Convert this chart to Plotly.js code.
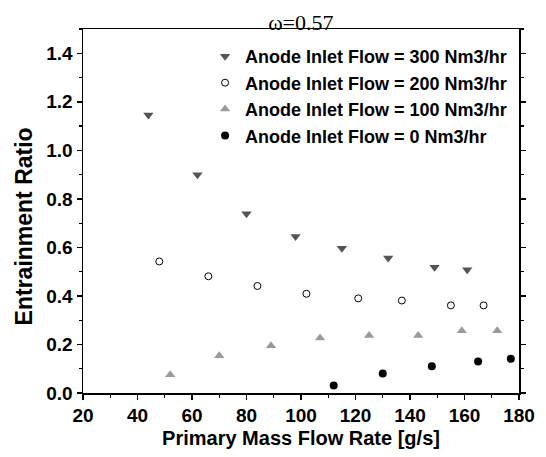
<!DOCTYPE html>
<html>
<head>
<meta charset="utf-8">
<script src="https://cdn.plot.ly/plotly-3.0.1.min.js"></script>
<style>html,body{margin:0;padding:0;background:#fff;}#chart{width:546px;height:457px;}</style>
</head>
<body>
<div id="chart"></div>
<script>
const names = [
  "Anode Inlet Flow = 300 Nm3/hr",
  "Anode Inlet Flow = 200 Nm3/hr",
  "Anode Inlet Flow = 100 Nm3/hr",
  "Anode Inlet Flow = 0 Nm3/hr"
];
const x300 = [44, 62, 80, 98, 115, 132, 149, 161];
const y300 = [1.146, 0.899, 0.739, 0.645, 0.596, 0.556, 0.518, 0.508];
const x200 = [48, 66, 84, 102, 121, 137, 155, 167];
const y200 = [0.542, 0.481, 0.441, 0.409, 0.39, 0.381, 0.361, 0.361];
const x100 = [52, 70, 89, 107, 125, 143, 159, 172];
const y100 = [0.075, 0.154, 0.195, 0.227, 0.237, 0.237, 0.257, 0.257];
const x0 = [112, 130, 148, 165, 177];
const y0 = [0.031, 0.08, 0.11, 0.13, 0.141];
const xTicks = [20, 40, 60, 80, 100, 120, 140, 160, 180];
const yTicks = [0.0, 0.2, 0.4, 0.6, 0.8, 1.0, 1.2, 1.4];
const titleText = "ω=0.57";
const xTitle = "Primary Mass Flow Rate [g/s]";
const yTitle = "Entrainment Ratio";

const traces = [
  {x: x300, y: y300, name: names[0], mode: "markers", type: "scatter",
   marker: {symbol: "triangle-down", size: 9, color: "#545454"}},
  {x: x200, y: y200, name: names[1], mode: "markers", type: "scatter",
   marker: {symbol: "circle-open", size: 7, color: "#000", line: {width: 1, color: "#000"}}},
  {x: x100, y: y100, name: names[2], mode: "markers", type: "scatter",
   marker: {symbol: "triangle-up", size: 9, color: "#9a9a9a"}},
  {x: x0, y: y0, name: names[3], mode: "markers", type: "scatter",
   marker: {symbol: "circle", size: 8, color: "#000"}}
];

const fam = "Liberation Sans, Arial, sans-serif";
const tickFont = {family: fam, size: 19, color: "#000", weight: "bold"};
const layout = {
  width: 546, height: 457,
  margin: {l: 83, r: 27, t: 29, b: 64},
  paper_bgcolor: "#fff", plot_bgcolor: "#fff",
  title: {text: titleText, font: {family: "Liberation Serif, Times New Roman, serif", size: 22, color: "#000"},
          x: 0.551, xanchor: "center", y: 0.951, yanchor: "middle"},
  showlegend: true,
  legend: {x: 0.28, y: 0.975, xanchor: "left", yanchor: "top", bgcolor: "rgba(0,0,0,0)",
           font: {family: fam, size: 18, color: "#000", weight: "bold"}},
  xaxis: {range: [20, 180], tickvals: xTicks, ticktext: xTicks.map(String),
          showgrid: false, zeroline: false, showline: true, linecolor: "#000", linewidth: 1.5,
          mirror: true, ticks: "outside", ticklen: 5, tickwidth: 1.5, tickcolor: "#000",
          minor: {dtick: 10, tick0: 30, ticks: "outside", ticklen: 3, tickwidth: 1.2, tickcolor: "#000", showgrid: false},
          tickfont: tickFont,
          title: {text: xTitle, font: {family: fam, size: 20, color: "#000", weight: "bold"}, standoff: 5}},
  xaxis2: {range: [20, 180], overlaying: "x", side: "top", anchor: "y", tickvals: xTicks,
           showticklabels: false, showgrid: false, zeroline: false, showline: false,
           ticks: "inside", ticklen: 4, tickwidth: 1.2, tickcolor: "#000",
           minor: {dtick: 10, tick0: 30, ticks: "inside", ticklen: 2, tickwidth: 1, tickcolor: "#000", showgrid: false}},
  yaxis: {range: [0, 1.5], tickvals: yTicks, ticktext: yTicks.map(v => v.toFixed(1)),
          showgrid: false, zeroline: false, showline: true, linecolor: "#000", linewidth: 1.5,
          mirror: "allticks", ticks: "outside", ticklen: 5, tickwidth: 1.5, tickcolor: "#000",
          minor: {dtick: 0.1, tick0: 0.1, ticks: "outside", ticklen: 3, tickwidth: 1.2, tickcolor: "#000", showgrid: false},
          tickfont: tickFont},
  annotations: [{text: yTitle, xref: "paper", yref: "paper", x: -0.1365, y: 0.459,
                 xanchor: "center", yanchor: "middle", textangle: -90, showarrow: false,
                 font: {family: fam, size: 23, color: "#000", weight: "bold"}}]
};

Plotly.newPlot("chart", traces, layout, {displayModeBar: false, staticPlot: true});
</script>
</body>
</html>
